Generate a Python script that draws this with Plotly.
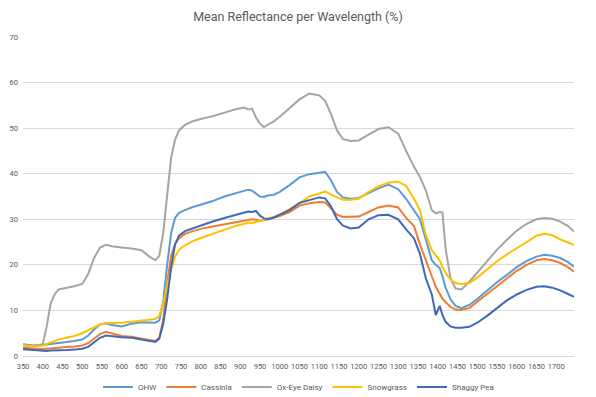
import plotly.graph_objects as go

wavelength = [350, 375, 400, 410, 420, 430, 440, 460, 480, 500, 515, 530, 545, 560, 575,
              600, 625, 650, 670, 685, 695, 705, 715, 725, 735, 745, 760, 780, 800, 830,
              860, 890, 910, 920, 930, 940, 950, 960, 970, 985, 1000, 1025, 1050, 1075,
              1100, 1115, 1130, 1145, 1160, 1180, 1200, 1225, 1250, 1275, 1300, 1320,
              1340, 1355, 1370, 1385, 1395, 1405, 1412, 1420, 1432, 1445, 1460, 1480,
              1500, 1525, 1550, 1575, 1600, 1625, 1650, 1670, 1690, 1710, 1730, 1745]

ohw = [2.6, 2.3, 2.4, 2.5, 2.7, 2.8, 2.9, 3.1, 3.3, 3.6, 4.5, 5.8, 6.9, 7.2, 6.8,
       6.5, 7.1, 7.4, 7.4, 7.3, 7.8, 12.0, 20.0, 27.0, 30.3, 31.4, 32.0, 32.7, 33.2, 34.0,
       35.0, 35.8, 36.2, 36.5, 36.3, 35.7, 35.0, 34.9, 35.2, 35.4, 36.0, 37.5, 39.2, 39.9,
       40.2, 40.4, 38.5, 36.0, 34.8, 34.5, 34.7, 35.7, 36.8, 37.6, 36.6, 34.5,
       32.0, 30.0, 25.5, 21.0, 20.0, 19.3, 17.5, 15.0, 12.5, 11.0, 10.5, 11.2,
       12.5, 14.4, 16.2, 17.8, 19.5, 20.8, 21.8, 22.2, 22.0, 21.5, 20.6, 19.6]

cassinia = [1.8, 1.6, 1.5, 1.6, 1.7, 1.8, 1.9, 2.0, 2.1, 2.3, 2.8, 3.8, 4.8, 5.3, 4.9,
            4.4, 4.2, 3.9, 3.5, 3.3, 4.0, 8.0, 16.0, 22.0, 24.6, 25.8, 26.8, 27.4, 27.9, 28.4,
            28.9, 29.3, 29.6, 29.8, 30.0, 29.9, 29.7, 29.8, 30.0, 30.3, 30.7, 31.6, 33.0, 33.5,
            33.8, 33.7, 32.3, 31.0, 30.5, 30.5, 30.6, 31.6, 32.6, 33.0, 32.6, 30.3,
            28.5, 24.5, 20.8, 17.5, 15.2, 13.5, 12.6, 11.8, 10.8, 10.2, 10.1, 10.5,
            11.8, 13.6, 15.3, 16.9, 18.7, 20.0, 21.0, 21.3, 21.0, 20.4, 19.5, 18.5]

ox_eye_daisy = [2.3, 2.2, 2.6, 6.5, 11.5, 13.5, 14.6, 14.9, 15.3, 15.8, 18.0, 21.5, 23.8, 24.4, 24.1,
                23.8, 23.6, 23.2, 21.8, 21.0, 22.0, 27.0, 35.0, 43.5, 47.5, 49.5, 50.7, 51.5, 52.0, 52.6,
                53.4, 54.2, 54.5, 54.1, 54.3, 52.3, 51.0, 50.2, 50.8, 51.5, 52.5, 54.3, 56.3, 57.6,
                57.2, 56.0, 53.0, 49.5, 47.6, 47.2, 47.3, 48.6, 49.8, 50.2, 48.8, 45.0,
                41.5, 39.3, 36.3, 32.0, 31.3, 31.6, 31.5, 23.5, 17.2, 14.8, 14.6, 16.3,
                18.3, 21.0, 23.3, 25.5, 27.5, 29.0, 30.0, 30.3, 30.1, 29.5, 28.5, 27.3]

snowgrass = [2.4, 2.1, 2.3, 2.6, 3.0, 3.3, 3.6, 4.0, 4.4, 5.0, 5.6, 6.3, 6.9, 7.2, 7.2,
             7.3, 7.5, 7.7, 7.9, 8.1, 8.8, 11.5, 15.5, 19.0, 21.8, 23.3, 24.3, 25.2, 25.9, 26.8,
             27.8, 28.6, 29.0, 29.3, 29.2, 29.4, 29.6, 29.9, 30.2, 30.5, 31.0, 32.3, 33.5, 35.0,
             35.7, 36.1, 35.4, 34.8, 34.3, 34.3, 34.5, 36.0, 37.2, 38.0, 38.3, 37.3,
             34.5, 32.0, 26.5, 23.2, 22.2, 21.0, 19.5, 18.2, 16.8, 16.0, 15.8, 16.0,
             17.2, 19.1, 20.8, 22.3, 23.6, 25.0, 26.4, 26.8, 26.5, 25.6, 24.9, 24.4]

shaggy_pea = [1.5, 1.3, 1.1, 1.1, 1.2, 1.2, 1.3, 1.3, 1.4, 1.6, 2.0, 3.0, 4.0, 4.5, 4.3,
              4.1, 4.0, 3.6, 3.3, 3.1, 3.8, 7.0, 12.5, 19.5, 24.5, 26.4, 27.4, 28.0, 28.7, 29.5,
              30.3, 31.0, 31.4, 31.7, 31.6, 31.8, 30.8, 30.2, 30.0, 30.4, 31.0, 32.0, 33.6, 34.2,
              34.8, 34.6, 32.8, 30.0, 28.6, 28.0, 28.2, 30.0, 30.9, 31.0, 30.0, 27.8,
              25.8, 22.4, 17.0, 13.5, 9.0, 11.0, 9.0, 7.5, 6.5, 6.2, 6.2, 6.4,
              7.3, 8.8, 10.6, 12.2, 13.5, 14.5, 15.2, 15.3, 15.0, 14.4, 13.6, 13.0]

series_names = ["OHW", "Cassinia", "Ox-Eye Daisy", "Snowgrass", "Shaggy Pea"]
series_values = [ohw, cassinia, ox_eye_daisy, snowgrass, shaggy_pea]
colors = ["#5B9BD5", "#ED7D31", "#A5A5A5", "#FFC000", "#3F68BA"]

x_ticks = list(range(350, 1701, 50))
y_ticks = list(range(0, 71, 10))

font_family = "Roboto, Arial, sans-serif"
text_color = "#595959"

fig = go.Figure()
for name, vals, col in zip(series_names, series_values, colors):
    fig.add_trace(go.Scatter(x=wavelength, y=vals, mode="lines", name=name,
                             line=dict(color=col, width=2)))

fig.update_layout(
    width=596, height=397,
    margin=dict(l=23, r=22, t=37, b=41, autoexpand=False),
    paper_bgcolor="white", plot_bgcolor="white",
    font=dict(family=font_family, color=text_color, size=8),
    title=dict(text="Mean Reflectance per Wavelength (%)", x=0.5, xanchor="center",
               y=1 - 17 / 397, yanchor="middle", yref="container",
               font=dict(size=12.5, color=text_color, family=font_family)),
    showlegend=True,
    legend=dict(orientation="h", x=0.5, xanchor="center", yref="container",
                y=1 - 387 / 397, yanchor="middle",
                font=dict(size=8, color=text_color), itemwidth=30,
                tracegroupgap=0, bgcolor="rgba(0,0,0,0)"),
    xaxis=dict(range=[350, 1745], tickmode="array", tickvals=x_ticks,
               ticktext=[str(v) for v in x_ticks], tickangle=0,
               showgrid=False, zeroline=False, showline=True,
               linecolor="#D9D9D9", linewidth=1, ticks="",
               ticklabelstandoff=3,
               tickfont=dict(size=7.5, color=text_color)),
    yaxis=dict(range=[0, 70], tickmode="array", tickvals=y_ticks,
               showgrid=True, gridcolor="#D9D9D9", gridwidth=1,
               zeroline=False, showline=False, ticks="",
               ticklabelstandoff=4,
               tickfont=dict(size=7.5, color=text_color)),
)

fig.write_html("out.html", config={"displayModeBar": False},
               post_script="document.body.style.margin='0';")
